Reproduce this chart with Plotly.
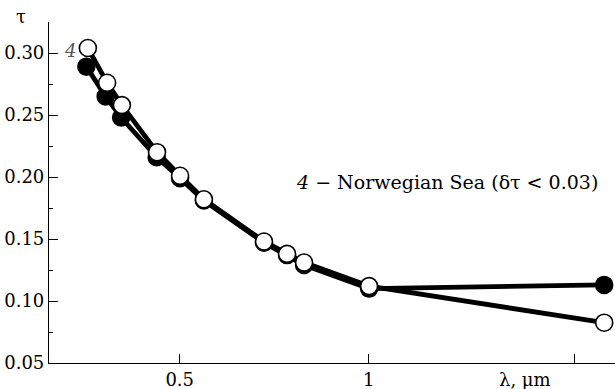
import plotly.graph_objects as go

# wavelengths (μm) and optical depth
lam_open = [0.257, 0.308, 0.347, 0.440, 0.501, 0.564, 0.723, 0.784, 0.829, 1.001, 1.623]
tau_open = [0.304, 0.276, 0.258, 0.220, 0.201, 0.182, 0.148, 0.138, 0.131, 0.112, 0.0825]

lam_fill = [0.253, 0.304, 0.345, 0.439, 0.501, 0.564, 0.723, 0.784, 0.829, 1.001, 1.623]
tau_fill = [0.289, 0.265, 0.248, 0.216, 0.199, 0.181, 0.147, 0.137, 0.129, 0.110, 0.113]

y_ticks = [0.05, 0.10, 0.15, 0.20, 0.25, 0.30]
y_ticktext = ["0.05", "0.10", "0.15", "0.20", "0.25", "0.30"]
x_ticks = [0.5, 1.0, 1.544]
x_ticktext = ["0.5", "1", ""]

FONT = "DejaVu Serif"
FS = 18

fig = go.Figure()
fig.add_trace(go.Scatter(x=lam_fill, y=tau_fill, mode="lines",
                         line=dict(color="black", width=4.8), showlegend=False))
fig.add_trace(go.Scatter(x=lam_open, y=tau_open, mode="lines",
                         line=dict(color="black", width=4.8), showlegend=False))
fig.add_trace(go.Scatter(x=lam_fill, y=tau_fill, mode="markers",
                         marker=dict(size=17, color="black", line=dict(color="black", width=1.5)),
                         showlegend=False))
fig.add_trace(go.Scatter(x=lam_open, y=tau_open, mode="markers",
                         marker=dict(size=17, color="white", line=dict(color="black", width=1.6)),
                         showlegend=False))

fig.update_layout(
    width=615, height=389,
    margin=dict(l=49, r=0, t=22, b=26),
    paper_bgcolor="white", plot_bgcolor="white",
    font=dict(family=FONT, size=FS, color="black"),
    xaxis=dict(range=[0.1542, 1.6516], showgrid=False, zeroline=False,
               showline=True, linecolor="black", linewidth=1.2,
               ticks="inside", ticklen=9, tickwidth=1.2, tickcolor="black",
               tickvals=x_ticks, ticktext=x_ticktext,
               tickfont=dict(family=FONT, size=FS)),
    yaxis=dict(range=[0.05, 0.325], showgrid=False, zeroline=False,
               showline=True, linecolor="black", linewidth=1.2,
               ticks="inside", ticklen=9, tickwidth=1.2, tickcolor="black",
               tickvals=y_ticks, ticktext=y_ticktext,
               tickfont=dict(family=FONT, size=FS),
               minor=dict(ticks="inside", ticklen=4, tickwidth=1.2, tickcolor="black",
                          tickvals=[0.075, 0.125, 0.175, 0.225, 0.275, 0.325])),
    annotations=[
        dict(text="τ", xref="paper", yref="paper", x=-0.05, y=1.015,
             xanchor="center", yanchor="middle", showarrow=False,
             font=dict(family=FONT, size=FS)),
        dict(text="λ, μm", xref="paper", yref="paper", x=0.841, y=-0.047,
             xanchor="center", yanchor="middle", showarrow=False,
             font=dict(family=FONT, size=FS)),
        dict(text="<i>4</i>", xref="paper", yref="paper", x=0.0371, y=0.917,
             xanchor="center", yanchor="middle", showarrow=False,
             font=dict(family=FONT, size=FS, color="#555555")),
        dict(text="<i>4</i> − Norwegian Sea (δτ &lt; 0.03)", xref="paper", yref="paper",
             x=0.4329, y=0.5308, xanchor="left", yanchor="middle", showarrow=False,
             font=dict(family=FONT, size=19)),
    ],
)

fig.write_html("out.html")
